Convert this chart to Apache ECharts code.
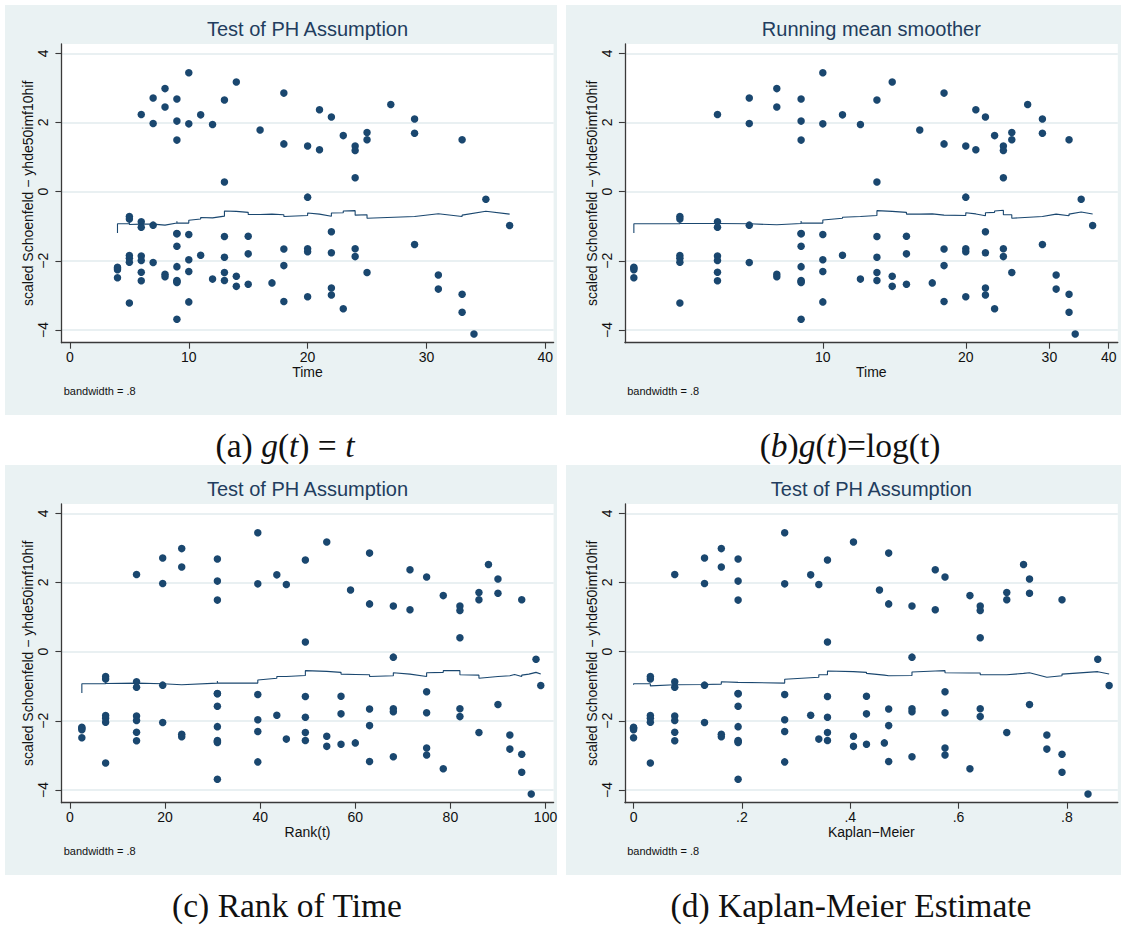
<!DOCTYPE html>
<html>
<head>
<meta charset="utf-8">
<script src="https://cdn.jsdelivr.net/npm/echarts@6/dist/echarts.min.js"></script>
<style>
  html, body { margin: 0; padding: 0; background: #ffffff; }
  #chart { width: 1125px; height: 926px; }
</style>
</head>
<body>
<div id="chart"></div>
<script>
// Distinct failure times
const times = [4, 5, 6, 7, 8, 9, 10, 11, 12, 13, 14, 15, 16, 17, 18, 20, 21, 22, 23, 24, 25, 27, 29, 31, 33, 34, 35, 37];
// Rank of each failure time
const rankOfTime = [2.5, 7.5, 14, 19.5, 23.5, 31, 39.5, 43.5, 45.5, 49.5, 54, 57, 59, 60, 63, 68, 71.5, 75, 78.5, 82, 86, 88, 90, 92.5, 95, 97, 98, 99];
// Kaplan-Meier value at each failure time
const kaplanMeier = [0, 0.031, 0.076, 0.131, 0.162, 0.193, 0.279, 0.327, 0.342, 0.358, 0.406, 0.430, 0.454, 0.463, 0.471, 0.514, 0.557, 0.575, 0.621, 0.640, 0.689, 0.720, 0.731, 0.763, 0.791, 0.839, 0.857, 0.878];
// Scaled Schoenfeld residuals, grouped by failure time (same order as times)
const residualsByTime = [
  [-2.19, -2.22, -2.26, -2.49],
  [-0.72, -0.79, -1.85, -1.93, -2.04, -3.22],
  [2.23, -0.87, -1.03, -1.86, -1.99, -2.33, -2.58],
  [2.71, 1.97, -0.97, -2.05],
  [2.98, 2.45, -2.39, -2.46],
  [2.68, 2.04, 1.49, -1.21, -1.22, -1.58, -2.17, -2.57, -2.60, -2.63, -3.69],
  [3.44, 1.96, -1.24, -1.97, -2.31, -3.19],
  [2.22, -1.84],
  [1.94, -2.53],
  [2.65, 0.28, -1.30, -1.90, -2.34, -2.57],
  [3.17, -2.45, -2.74],
  [-1.29, -1.80, -2.68],
  [1.78],
  [-2.64],
  [2.85, 1.38, -1.66, -2.14, -3.18],
  [1.32, -0.16, -1.65, -1.74, -3.04],
  [2.37, 1.21],
  [2.16, -1.16, -1.77, -2.79, -2.99],
  [1.62, -3.39],
  [1.32, 1.19, 0.40, -1.65, -1.88],
  [1.71, 1.50, -2.34],
  [2.52],
  [2.10, 1.69, -1.53],
  [-2.41, -2.82],
  [1.50, -2.97, -3.49],
  [-4.12],
  [-0.22],
  [-0.98]
];

// Lowess smoother (bandwidth .8) against time
const smootherTime = [[4,-1.20],[4,-0.93],[5,-0.93],[5,-0.88],[5,-0.95],[6,-0.94],[6,-0.92],[7,-0.94],[8,-0.97],[9,-0.91],[9,-0.86],[9,-0.91],[10,-0.91],[10,-0.83],[11,-0.79],[11,-0.75],[12,-0.76],[12,-0.74],[13,-0.71],[13,-0.56],[14,-0.57],[15,-0.60],[15,-0.66],[16,-0.66],[17,-0.65],[18,-0.67],[18,-0.72],[20,-0.69],[20,-0.62],[21,-0.65],[22,-0.71],[22,-0.62],[23,-0.61],[23,-0.56],[24,-0.55],[24,-0.68],[25,-0.67],[25,-0.77],[29,-0.72],[31,-0.64],[33,-0.72],[33,-0.68],[35,-0.57],[37,-0.65]];
// Running mean smoother against log(time), given at the times
const smootherLogTime = [[4,-1.20],[4,-0.93],[5,-0.93],[5,-0.88],[5,-0.92],[6,-0.92],[7,-0.93],[8,-0.96],[9,-0.92],[9,-0.85],[9,-0.91],[10,-0.91],[10,-0.82],[11,-0.77],[11,-0.74],[12,-0.72],[13,-0.69],[13,-0.55],[14,-0.57],[15,-0.60],[15,-0.65],[16,-0.65],[17,-0.645],[18,-0.68],[18,-0.70],[20,-0.69],[20,-0.61],[21,-0.645],[22,-0.70],[22,-0.61],[23,-0.60],[23,-0.56],[24,-0.54],[24,-0.67],[25,-0.67],[25,-0.77],[29,-0.72],[31,-0.65],[33,-0.70],[33,-0.65],[35,-0.59],[37,-0.645]];
// Lowess smoother against rank of time
const smootherRank = [[2.5,-1.20],[2.5,-0.93],[7.5,-0.93],[7.5,-0.88],[7.5,-0.92],[14,-0.91],[19.5,-0.93],[23.5,-0.96],[31,-0.91],[31,-0.85],[31,-0.91],[39.5,-0.91],[39.5,-0.82],[43.5,-0.77],[43.5,-0.72],[45.5,-0.72],[49.5,-0.69],[49.5,-0.55],[54,-0.57],[57,-0.60],[57,-0.65],[60,-0.66],[63,-0.67],[63,-0.72],[68,-0.70],[68,-0.61],[71.5,-0.65],[75,-0.72],[75,-0.61],[78.5,-0.60],[78.5,-0.55],[82,-0.55],[82,-0.67],[86,-0.68],[86,-0.77],[90,-0.72],[92.5,-0.70],[93.5,-0.66],[95,-0.72],[95,-0.68],[96.5,-0.65],[98,-0.60],[99,-0.65]];
// Lowess smoother against the Kaplan-Meier estimate
const smootherKM = [[0,-0.96],[0,-0.93],[0.031,-0.93],[0.031,-0.99],[0.076,-0.96],[0.131,-0.95],[0.162,-0.94],[0.162,-0.87],[0.193,-0.89],[0.279,-0.91],[0.279,-0.80],[0.342,-0.74],[0.342,-0.67],[0.358,-0.67],[0.358,-0.56],[0.406,-0.58],[0.430,-0.60],[0.430,-0.63],[0.463,-0.68],[0.471,-0.70],[0.514,-0.69],[0.514,-0.59],[0.557,-0.56],[0.575,-0.55],[0.575,-0.61],[0.621,-0.62],[0.621,-0.61],[0.640,-0.62],[0.640,-0.67],[0.689,-0.67],[0.720,-0.63],[0.731,-0.61],[0.763,-0.74],[0.791,-0.70],[0.791,-0.65],[0.857,-0.58],[0.878,-0.645]];

// Tick labels
const residualTicks = [-4, -2, 0, 2, 4];
const timeTicks = [0, 10, 20, 30, 40];
const logTimeTicks = [10, 20, 30, 40];
const rankTicks = [0, 20, 40, 60, 80, 100];
const kmTicks = [0, 0.2, 0.4, 0.6, 0.8];

const NAVY = '#1a476f';
const TITLE_COLOR = '#223d5e';
const SANS = '"Liberation Sans", Arial, Helvetica, sans-serif';
const SERIF = '"Liberation Serif", "Times New Roman", serif';
const PANEL_BG = '#eaf2f3';
const GRID_COLOR = '#e2ebee';

function pointsAt(xs) {
  const out = [];
  residualsByTime.forEach((list, i) => list.forEach(r => out.push([xs[i], r])));
  return out;
}

const plainNum = v => String(Math.round(v * 1000) / 1000);
const stataFrac = v => (v === 0 ? '0' : plainNum(v).replace(/^0\./, '.'));

const panels = [
  { left: 61.4, top: 44, width: 492.2, xMin: -0.72, xMax: 40.7,
    xs: times, line: smootherTime, ticks: timeTicks, fmt: plainNum,
    xName: 'Time', title: 'Test of PH Assumption' },
  { left: 624.9, top: 44, width: 492.9, xMin: Math.log(3.83), xMax: Math.log(41.8),
    xs: times.map(Math.log), line: smootherLogTime.map(([t, y]) => [Math.log(t), y]),
    ticks: logTimeTicks.map(Math.log), fmt: v => String(Math.round(Math.exp(v))),
    xName: 'Time', title: 'Running mean smoother' },
  { left: 61.4, top: 504, width: 492.2, xMin: -1.8, xMax: 101.7,
    xs: rankOfTime, line: smootherRank, ticks: rankTicks, fmt: plainNum,
    xName: 'Rank(t)', title: 'Test of PH Assumption' },
  { left: 624.9, top: 504, width: 492.9, xMin: -0.016, xMax: 0.894,
    xs: kaplanMeier, line: smootherKM, ticks: kmTicks, fmt: stataFrac,
    xName: 'Kaplan\u2212Meier', title: 'Test of PH Assumption' }
];
const PLOT_H = 298.7;

const grids = [], xAxes = [], yAxes = [], series = [], graphics = [];

const boxes = [[5, 5, 552, 410], [566, 5, 555, 410], [5, 465, 552, 410], [566, 465, 555, 410]];
boxes.forEach(b => graphics.push({
  type: 'rect', z: -10, silent: true,
  shape: { x: b[0], y: b[1], width: b[2], height: b[3] },
  style: { fill: PANEL_BG }
}));

panels.forEach((p, i) => {
  grids.push({
    left: p.left, top: p.top, width: p.width, height: PLOT_H,
    show: true, backgroundColor: '#ffffff', borderWidth: 0,
    containLabel: false, outerBoundsMode: 'none'
  });
  xAxes.push({
    type: 'value', gridIndex: i, min: p.xMin, max: p.xMax,
    name: p.xName, nameLocation: 'middle', nameGap: 22,
    nameTextStyle: { fontFamily: SANS, fontSize: 14, color: '#111' },
    axisLine: { show: true, onZero: false, lineStyle: { color: '#3a3a3a', width: 1.3 } },
    axisTick: { show: true, inside: false, length: 6, customValues: p.ticks,
                lineStyle: { color: '#3a3a3a', width: 1.1 } },
    axisLabel: { show: true, customValues: p.ticks, margin: 7, hideOverlap: false,
                 fontFamily: SANS, fontSize: 14, color: '#111', formatter: p.fmt },
    splitLine: { show: false }
  });
  yAxes.push({
    type: 'value', gridIndex: i, min: -4.37, max: 4.27,
    name: 'scaled Schoenfeld \u2212 yhde50imf10hif', nameLocation: 'middle', nameGap: 26,
    nameTextStyle: { fontFamily: SANS, fontSize: 14, color: '#111' },
    axisLine: { show: true, onZero: false, lineStyle: { color: '#3a3a3a', width: 1.3 } },
    axisTick: { show: true, inside: false, length: 6, customValues: residualTicks,
                lineStyle: { color: '#3a3a3a', width: 1.1 } },
    axisLabel: { show: true, customValues: residualTicks, rotate: 90, margin: 11, hideOverlap: false,
                 fontFamily: SANS, fontSize: 14, color: '#111',
                 formatter: v => String(v).replace('-', '\u2212') },
    splitLine: { show: true, lineStyle: { color: GRID_COLOR, width: 1.5 } }
  });
  series.push({
    type: 'scatter', xAxisIndex: i, yAxisIndex: i, data: pointsAt(p.xs),
    symbol: 'circle', symbolSize: 7.5, itemStyle: { color: NAVY, opacity: 1 },
    silent: true, z: 3
  });
  series.push({
    type: 'line', xAxisIndex: i, yAxisIndex: i, data: p.line,
    symbol: 'none', showSymbol: false, smooth: false,
    lineStyle: { color: NAVY, width: 1.1 }, silent: true, z: 4
  });

  const cx = p.left + p.width / 2;
  graphics.push({
    type: 'text', x: cx, y: p.top - 14.7, silent: true,
    style: { text: p.title, fontFamily: SANS, fontSize: 20, fill: TITLE_COLOR,
             align: 'center', verticalAlign: 'middle', textAlign: 'center', textVerticalAlign: 'middle' }
  });
  graphics.push({
    type: 'text', x: p.left + 2.3, y: p.top + 347, silent: true,
    style: { text: 'bandwidth = .8', fontFamily: SANS, fontSize: 11, fill: '#111',
             align: 'left', verticalAlign: 'middle', textAlign: 'left', textVerticalAlign: 'middle' }
  });
});

// Sub-figure captions
const capRich = {
  n: { fontFamily: SERIF, fontSize: 33.5, fill: '#111', color: '#111' },
  i: { fontFamily: SERIF, fontSize: 33.5, fontStyle: 'italic', fill: '#111', color: '#111' }
};
const captions = [
  [285, 445, '{n|(a) }{i|g}{n|(}{i|t}{n|) = }{i|t}'],
  [850, 445, '{n|(}{i|b}{n|)}{i|g}{n|(}{i|t}{n|)=log(t)}'],
  [287, 905, '{n|(c) Rank of Time}'],
  [851, 905, '{n|(d) Kaplan-Meier Estimate}']
];
captions.forEach(c => graphics.push({
  type: 'text', x: c[0], y: c[1], silent: true,
  style: { text: c[2], rich: capRich, fontFamily: SERIF, fontSize: 33.5, fill: '#111',
           align: 'center', verticalAlign: 'middle', textAlign: 'center', textVerticalAlign: 'middle' }
}));

const chart = echarts.init(document.getElementById('chart'), null, { renderer: 'svg' });
chart.setOption({
  animation: false,
  backgroundColor: '#ffffff',
  grid: grids,
  xAxis: xAxes,
  yAxis: yAxes,
  series: series,
  graphic: { elements: graphics }
});
</script>
</body>
</html>
